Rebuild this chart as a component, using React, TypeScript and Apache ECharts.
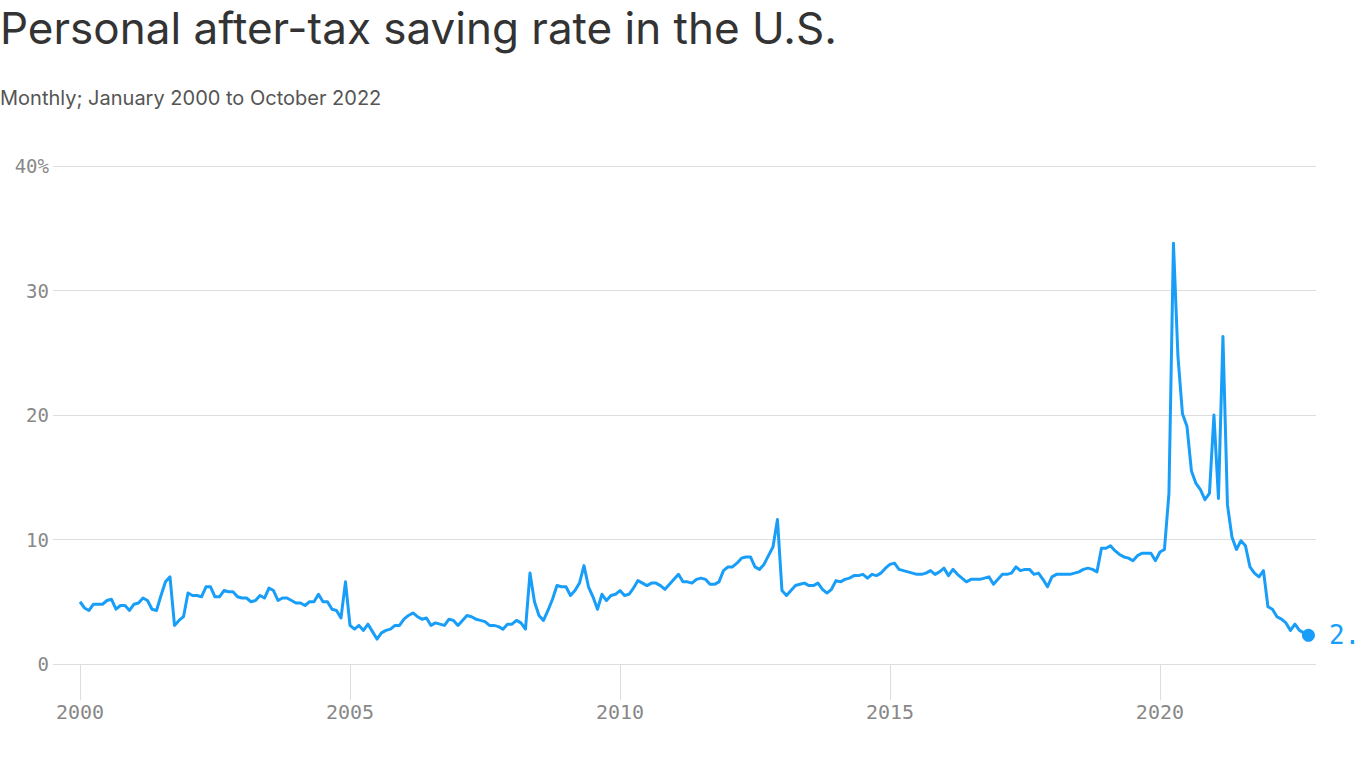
import React, { useEffect, useRef } from "react";
import * as echarts from "echarts";

const TITLE = "Personal after-tax saving rate in the U.S.";
const SUBTITLE = "Monthly; January 2000 to October 2022";
const START_YEAR = 2000;

// Personal saving rate, % of disposable income, monthly (Jan..Dec)
const rate2000 = [5.0, 4.5, 4.3, 4.8, 4.8, 4.8, 5.1, 5.2, 4.4, 4.7, 4.7, 4.3];
const rate2001 = [4.8, 4.9, 5.3, 5.1, 4.4, 4.3, 5.5, 6.6, 7.0, 3.1, 3.5, 3.8];
const rate2002 = [5.7, 5.5, 5.5, 5.4, 6.2, 6.2, 5.4, 5.4, 5.9, 5.8, 5.8, 5.4];
const rate2003 = [5.3, 5.3, 5.0, 5.1, 5.5, 5.3, 6.1, 5.9, 5.1, 5.3, 5.3, 5.1];
const rate2004 = [4.9, 4.9, 4.7, 5.0, 5.0, 5.6, 5.0, 5.0, 4.4, 4.3, 3.7, 6.6];
const rate2005 = [3.1, 2.8, 3.1, 2.7, 3.2, 2.6, 2.0, 2.5, 2.7, 2.8, 3.1, 3.1];
const rate2006 = [3.6, 3.9, 4.1, 3.8, 3.6, 3.7, 3.1, 3.3, 3.2, 3.1, 3.6, 3.5];
const rate2007 = [3.1, 3.5, 3.9, 3.8, 3.6, 3.5, 3.4, 3.1, 3.1, 3.0, 2.8, 3.2];
const rate2008 = [3.2, 3.5, 3.3, 2.8, 7.3, 5.0, 3.9, 3.5, 4.3, 5.2, 6.3, 6.2];
const rate2009 = [6.2, 5.5, 5.9, 6.5, 7.9, 6.2, 5.4, 4.4, 5.6, 5.1, 5.5, 5.6];
const rate2010 = [5.9, 5.5, 5.6, 6.1, 6.7, 6.5, 6.3, 6.5, 6.5, 6.3, 6.0, 6.4];
const rate2011 = [6.8, 7.2, 6.6, 6.6, 6.5, 6.8, 6.9, 6.8, 6.4, 6.4, 6.6, 7.5];
const rate2012 = [7.8, 7.8, 8.1, 8.5, 8.6, 8.6, 7.8, 7.6, 8.0, 8.7, 9.4, 11.6];
const rate2013 = [5.9, 5.5, 5.9, 6.3, 6.4, 6.5, 6.3, 6.3, 6.5, 6.0, 5.7, 6.0];
const rate2014 = [6.7, 6.6, 6.8, 6.9, 7.1, 7.1, 7.2, 6.9, 7.2, 7.1, 7.3, 7.7];
const rate2015 = [8.0, 8.1, 7.6, 7.5, 7.4, 7.3, 7.2, 7.2, 7.3, 7.5, 7.2, 7.4];
const rate2016 = [7.7, 7.1, 7.6, 7.2, 6.9, 6.6, 6.8, 6.8, 6.8, 6.9, 7.0, 6.4];
const rate2017 = [6.8, 7.2, 7.2, 7.3, 7.8, 7.5, 7.6, 7.6, 7.2, 7.3, 6.8, 6.2];
const rate2018 = [7.0, 7.2, 7.2, 7.2, 7.2, 7.3, 7.4, 7.6, 7.7, 7.6, 7.4, 9.3];
const rate2019 = [9.3, 9.5, 9.1, 8.8, 8.6, 8.5, 8.3, 8.7, 8.9, 8.9, 8.9, 8.3];
const rate2020 = [9.0, 9.2, 13.7, 33.8, 24.7, 20.1, 19.1, 15.5, 14.5, 14.0, 13.2, 13.7];
const rate2021 = [20.0, 13.3, 26.3, 12.8, 10.2, 9.2, 9.9, 9.5, 7.8, 7.3, 7.0, 7.5];
const rate2022 = [4.6, 4.4, 3.8, 3.6, 3.3, 2.7, 3.2, 2.7, 2.5, 2.3];

const ratesByYear = [
  rate2000, rate2001, rate2002, rate2003, rate2004, rate2005, rate2006, rate2007,
  rate2008, rate2009, rate2010, rate2011, rate2012, rate2013, rate2014, rate2015,
  rate2016, rate2017, rate2018, rate2019, rate2020, rate2021, rate2022,
];

const xTickYears = [2000, 2005, 2010, 2015, 2020];
const Y_MIN = 0;
const Y_MAX = 40;
const Y_STEP = 10;

const BLUE = "#189ef9";
const MONO = "'DejaVu Sans Mono', monospace";
const SANS = "Inter, 'Noto Sans', sans-serif";

export default function App() {
  const ref = useRef<HTMLDivElement>(null);

  useEffect(() => {
    if (!ref.current) return;
    const chart = echarts.init(ref.current, null, { renderer: "svg" });

    const data: number[][] = [];
    ratesByYear.forEach((arr, yi) =>
      arr.forEach((v, mi) => data.push([START_YEAR + yi + mi / 12, v]))
    );
    const last = data[data.length - 1];

    chart.setOption({
      animation: false,
      title: [
        {
          text: TITLE,
          left: 0,
          top: 6,
          padding: 0,
          textStyle: { fontFamily: SANS, fontSize: 44, fontWeight: 400, color: "#333333" },
        },
        {
          text: SUBTITLE,
          left: 0,
          top: 88,
          padding: 0,
          textStyle: { fontFamily: SANS, fontSize: 20, fontWeight: 400, color: "#555555" },
        },
      ],
      grid: { left: 53, right: 44, top: 166, bottom: 104, containLabel: false },
      xAxis: {
        type: "value",
        min: 1999.5,
        max: 2022.89,
        axisLine: { show: false },
        splitLine: { show: false },
        axisTick: {
          show: true,
          customValues: xTickYears,
          length: 36,
          lineStyle: { color: "#dddddd", width: 1 },
        },
        axisLabel: {
          customValues: xTickYears,
          margin: 38,
          fontFamily: MONO,
          fontSize: 20,
          color: "#888888",
          formatter: (v: number) => String(Math.round(v)),
        },
      },
      yAxis: {
        type: "value",
        min: Y_MIN,
        max: Y_MAX,
        interval: Y_STEP,
        axisLine: { show: false },
        axisTick: { show: false },
        splitLine: { lineStyle: { color: "#dddddd", width: 1 } },
        axisLabel: {
          margin: 4,
          fontFamily: MONO,
          fontSize: 19,
          color: "#888888",
          formatter: (v: number) => (v === Y_MAX ? `${v}%` : String(v)),
        },
      },
      series: [
        {
          type: "line",
          data,
          showSymbol: false,
          symbol: "none",
          lineStyle: { width: 3, color: BLUE, join: "round" },
          itemStyle: { color: BLUE },
          silent: true,
        },
        {
          type: "scatter",
          data: [last],
          symbolSize: 13,
          itemStyle: { color: BLUE, opacity: 1 },
          silent: true,
          label: {
            show: true,
            position: "right",
            distance: 14,
            fontFamily: MONO,
            fontSize: 26,
            color: BLUE,
            formatter: `${last[1]}%`,
          },
        },
      ],
    });

    return () => chart.dispose();
  }, []);

  return (
    <div
      ref={ref}
      style={{ position: "absolute", left: 0, top: 0, width: 1360, height: 768, overflow: "hidden" }}
    />
  );
}
